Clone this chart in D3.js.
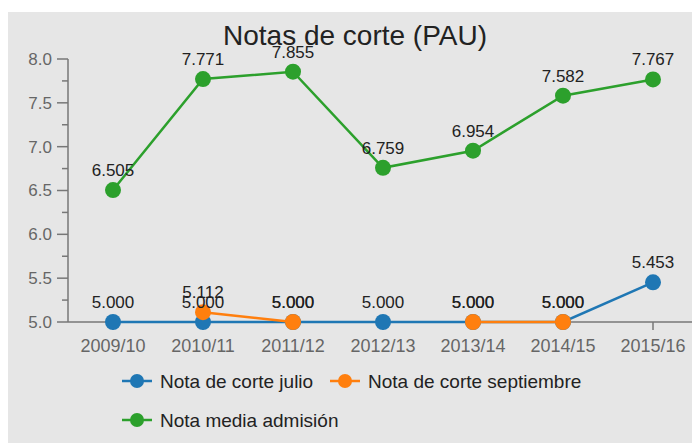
<!DOCTYPE html>
<html>
<head>
<meta charset="utf-8">
<script src="https://cdn.jsdelivr.net/npm/d3@7"></script>
<style>
  html, body { margin: 0; padding: 0; background: #fff; }
  svg { display: block; font-family: "Liberation Sans", Arial, sans-serif; }
</style>
</head>
<body>
<div id="chart"></div>
<script>
const title = 'Notas de corte (PAU)';
const years = ['2009/10', '2010/11', '2011/12', '2012/13', '2013/14', '2014/15', '2015/16'];
const julio = [5.000, 5.000, 5.000, 5.000, 5.000, 5.000, 5.453];
const septiembre = [null, 5.112, 5.000, null, 5.000, 5.000, null];
const admision = [6.505, 7.771, 7.855, 6.759, 6.954, 7.582, 7.767];
const yTicks = [5.0, 5.5, 6.0, 6.5, 7.0, 7.5, 8.0];

const series = [
  { name: 'Nota de corte julio', values: julio, color: '#1f77b4' },
  { name: 'Nota de corte septiembre', values: septiembre, color: '#ff7f0e' },
  { name: 'Nota media admisión', values: admision, color: '#2ca02c' }
];

const W = 692, H = 443;
const svg = d3.select('#chart').append('svg').attr('width', W).attr('height', H);

// panel background
svg.append('rect').attr('x', 8).attr('y', 12).attr('width', W - 8).attr('height', H - 12).attr('fill', '#e6e6e6');

const x = d3.scalePoint().domain(years).range([113, 653]);
const y = d3.scaleLinear().domain([5, 8]).range([322, 59]);

// title
svg.append('text').attr('x', 355).attr('y', 45).attr('text-anchor', 'middle')
  .attr('font-size', '28px').attr('fill', '#222').text(title);

// y axis: major + minor ticks
const yAxis = svg.append('g').attr('transform', 'translate(68,0)');
yAxis.append('line').attr('x1', 0).attr('x2', 0).attr('y1', y(8)).attr('y2', y(5)).attr('stroke', '#777').attr('stroke-width', 1.5);
const minor = d3.range(5.25, 8, 0.5);
yAxis.selectAll('.minor').data(minor).enter().append('line')
  .attr('x1', -6).attr('x2', 0).attr('y1', d => y(d)).attr('y2', d => y(d)).attr('stroke', '#777').attr('stroke-width', 1.5);
yAxis.selectAll('.major').data(yTicks).enter().append('line')
  .attr('x1', -11).attr('x2', 0).attr('y1', d => y(d)).attr('y2', d => y(d)).attr('stroke', '#777').attr('stroke-width', 1.5);
yAxis.selectAll('.lbl').data(yTicks).enter().append('text')
  .attr('x', -16).attr('y', d => y(d)).attr('dy', '0.35em').attr('text-anchor', 'end')
  .attr('font-size', '17px').attr('fill', '#666').text(d => d3.format('.1f')(d));

// x axis
const xAxis = svg.append('g').attr('transform', `translate(0,${y(5)})`);
xAxis.append('line').attr('x1', 68).attr('x2', W).attr('y1', 0).attr('y2', 0).attr('stroke', '#777').attr('stroke-width', 1.5);
xAxis.selectAll('.tick').data(years).enter().append('line')
  .attr('x1', d => x(d)).attr('x2', d => x(d)).attr('y1', 0).attr('y2', 8).attr('stroke', '#777').attr('stroke-width', 1.5);
xAxis.selectAll('.lbl').data(years).enter().append('text')
  .attr('x', d => x(d)).attr('y', 30).attr('text-anchor', 'middle')
  .attr('font-size', '18px').attr('fill', '#666').text(d => d);

// lines and points
const line = d3.line().defined(d => d.v != null).x(d => x(d.year)).y(d => y(d.v));
series.forEach(s => {
  const pts = s.values.map((v, i) => ({ year: years[i], v }));
  svg.append('path').datum(pts).attr('d', line).attr('fill', 'none')
    .attr('stroke', s.color).attr('stroke-width', 2.5);
  svg.selectAll(null).data(pts.filter(p => p.v != null)).enter().append('circle')
    .attr('cx', d => x(d.year)).attr('cy', d => y(d.v)).attr('r', 8).attr('fill', s.color);
});

// value labels
series.forEach(s => {
  const pts = s.values.map((v, i) => ({ year: years[i], v })).filter(p => p.v != null);
  svg.selectAll(null).data(pts).enter().append('text')
    .attr('x', d => x(d.year)).attr('y', d => y(d.v) - 14).attr('text-anchor', 'middle')
    .attr('font-size', '17px').attr('fill', '#222').text(d => d3.format('.3f')(d.v));
});

// legend
const legendPos = [[122, 381], [330, 381], [122, 420]];
series.forEach((s, i) => {
  const g = svg.append('g').attr('transform', `translate(${legendPos[i][0]},${legendPos[i][1]})`);
  g.append('line').attr('x1', 0).attr('x2', 30).attr('y1', 0).attr('y2', 0).attr('stroke', s.color).attr('stroke-width', 2.5);
  g.append('circle').attr('cx', 15).attr('cy', 0).attr('r', 7).attr('fill', s.color);
  g.append('text').attr('x', 38).attr('y', 0).attr('dy', '0.35em')
    .attr('font-size', '19px').attr('fill', '#222').text(s.name);
});
</script>
</body>
</html>
